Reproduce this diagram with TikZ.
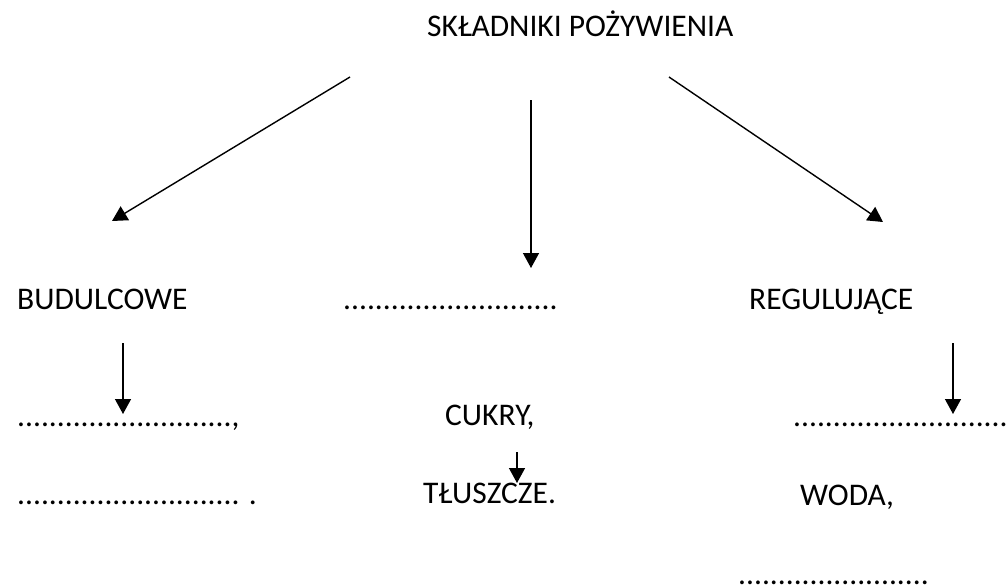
\documentclass[tikz,border=0pt]{standalone}
\usepackage{fontspec}
\setmainfont{Carlito}
\usetikzlibrary{arrows.meta}
\tikzset{
  lbl/.style={anchor=base west, inner sep=0pt, font=\fontsize{31.5}{37}\selectfont},
  arr/.style={line width=1.4pt, -{Triangle[width=16pt,length=15pt]}}
}
\newcommand{\dotsn}[1]{\foreach \i in {1,...,#1}{.}}
\begin{document}
\begin{tikzpicture}[x=1pt,y=-1pt]
\useasboundingbox (0,0) rectangle (1007,584);
\node[lbl] (title) at (427,36) {SKŁADNIKI POŻYWIENIA};
\node[lbl] (bud) at (17,309) {BUDULCOWE};
\node[lbl] (mid) at (343,309) {\dotsn{27}};
\node[lbl] (reg) at (749,309) {REGULUJĄCE};
\node[lbl] (l1) at (17,426) {\dotsn{27},};
\node[lbl] (cukry) at (445,425) {CUKRY,};
\node[lbl] (r1) at (793,426) {\dotsn{28}};
\node[lbl] (l2) at (17,504) {\dotsn{28} .};
\node[lbl] (tl) at (423,503) {TŁUSZCZE.};
\node[lbl] (woda) at (800,505) {WODA,};
\node[lbl] (r2) at (738,584) {\dotsn{24}};
\coordinate (a1s) at (350,77);  \coordinate (a1e) at (112,221);
\coordinate (a2s) at (531,100); \coordinate (a2e) at (531,268);
\coordinate (a3s) at (669,77);  \coordinate (a3e) at (883,222);
\coordinate (a4s) at (123,343); \coordinate (a4e) at (123,414);
\coordinate (a5s) at (953,343); \coordinate (a5e) at (953,414);
\coordinate (a6s) at (517,452); \coordinate (a6e) at (517,483);
\draw[arr] (a1s) -- (a1e);
\draw[arr] (a2s) -- (a2e);
\draw[arr] (a3s) -- (a3e);
\draw[arr] (a4s) -- (a4e);
\draw[arr] (a5s) -- (a5e);
\draw[arr] (a6s) -- (a6e);
\end{tikzpicture}
\end{document}
